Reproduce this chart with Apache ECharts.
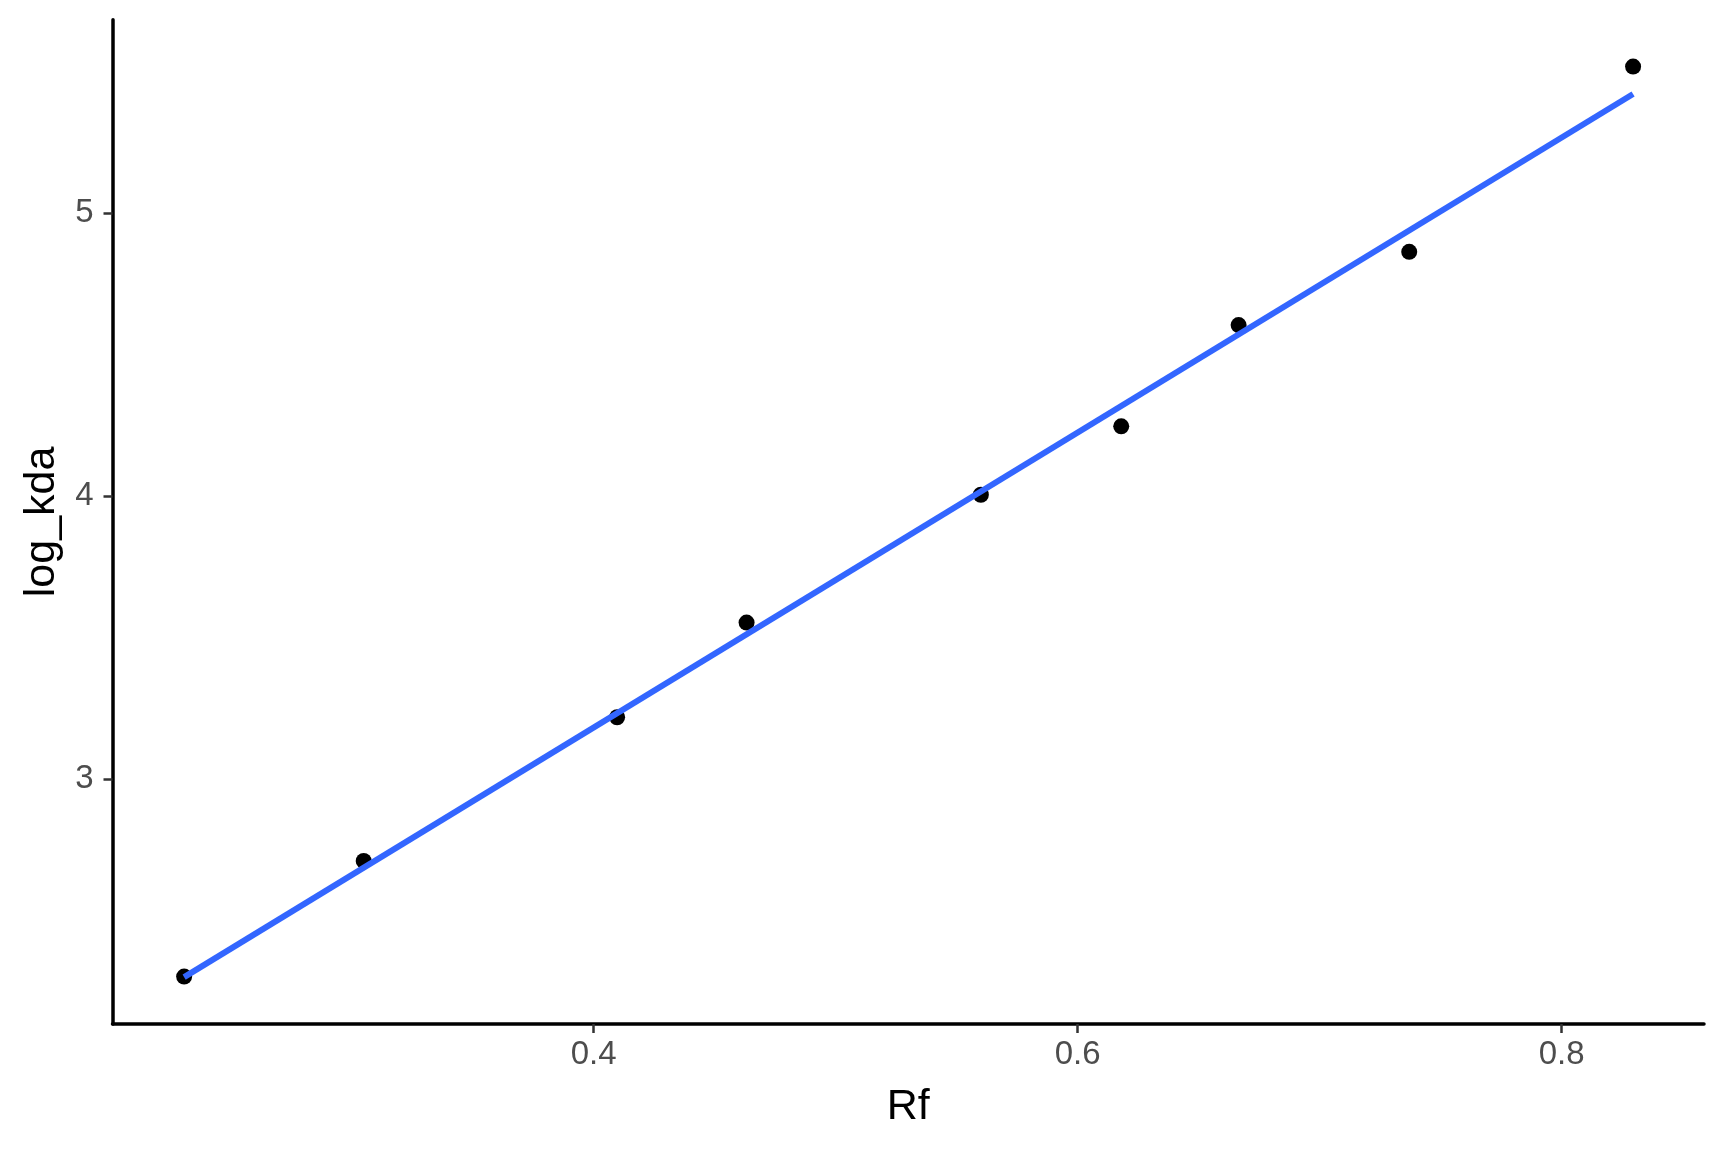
<!DOCTYPE html>
<html>
<head>
<meta charset="utf-8">
<script src="https://cdn.jsdelivr.net/npm/echarts@6/dist/echarts.min.js"></script>
<style>
html,body{margin:0;padding:0;background:#fff;}
#chart{width:1728px;height:1152px;}
</style>
</head>
<body>
<div id="chart"></div>
<script>
// Data
const rfValues = [0.2308, 0.305, 0.4097, 0.4632, 0.560, 0.618, 0.6665, 0.737, 0.8295];
const logKdaValues = [2.301, 2.710, 3.218, 3.553, 4.005, 4.247, 4.605, 4.864, 5.519];
// fitted line endpoints
const fitRf = [0.2308, 0.8295];
const fitLogKda = [2.299, 5.422];
// tick labels
const xTicks = [0.4, 0.6, 0.8];
const yTicks = [3, 4, 5];

const points = rfValues.map((x, i) => [x, logKdaValues[i]]);
const fitLine = fitRf.map((x, i) => [x, fitLogKda[i]]);

const chart = echarts.init(document.getElementById('chart'));
const tickLabelStyle = {
  color: '#4D4D4D',
  fontSize: 33,
  fontFamily: 'Liberation Sans, Arial, sans-serif'
};
chart.setOption({
  animation: false,
  backgroundColor: '#ffffff',
  grid: { left: 112.5, right: 24, top: 19.8, bottom: 128, containLabel: false },
  xAxis: {
    type: 'value',
    min: 0.2012,
    max: 0.8588,
    name: 'Rf',
    nameLocation: 'middle',
    nameGap: 62,
    nameTextStyle: { color: '#000', fontSize: 43, fontFamily: 'Liberation Sans, Arial, sans-serif' },
    splitLine: { show: false },
    axisLine: { show: true, onZero: false, lineStyle: { color: '#000', width: 3.5 } },
    axisTick: { show: true, length: 9, customValues: xTicks, lineStyle: { color: '#333333', width: 2.5 } },
    axisLabel: Object.assign({ margin: 14, customValues: xTicks, formatter: v => v.toFixed(1) }, tickLabelStyle)
  },
  yAxis: {
    type: 'value',
    min: 2.1333,
    max: 5.6845,
    name: 'log_kda',
    nameLocation: 'middle',
    nameGap: 49,
    nameRotate: 90,
    nameTextStyle: { color: '#000', fontSize: 43, fontFamily: 'Liberation Sans, Arial, sans-serif' },
    splitLine: { show: false },
    axisLine: { show: true, onZero: false, lineStyle: { color: '#000', width: 3.5 } },
    axisTick: { show: true, length: 9, customValues: yTicks, lineStyle: { color: '#333333', width: 2.5 } },
    axisLabel: Object.assign({ margin: 19, customValues: yTicks, formatter: v => String(v) }, tickLabelStyle)
  },
  series: [
    {
      type: 'scatter',
      data: points,
      symbol: 'circle',
      symbolSize: 16,
      itemStyle: { color: '#000000', opacity: 1 },
      z: 2
    },
    {
      type: 'line',
      data: fitLine,
      showSymbol: false,
      symbol: 'none',
      lineStyle: { color: '#3366FF', width: 6 },
      z: 3
    }
  ]
});
</script>
</body>
</html>
